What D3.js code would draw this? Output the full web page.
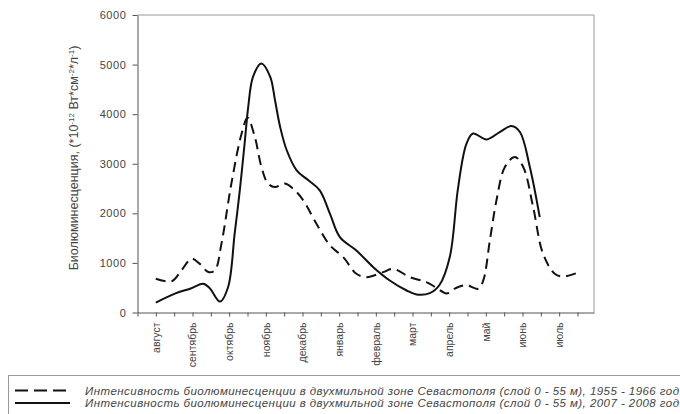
<!DOCTYPE html>
<html>
<head>
<meta charset="utf-8">
<style>
body { margin: 0; background: #fff; }
svg { font-family: "Liberation Sans", Arial, sans-serif; }
.axis text { fill: #444; font-size: 10.5px; }
.axis.y text { font-size: 11px; letter-spacing: 0.6px; }
.axis path, .axis line { stroke: #555; }
.curve { fill: none; stroke: #111; stroke-width: 2; stroke-linejoin: round; }
.legend text { fill: #444; font-size: 11.5px; font-style: italic; }
</style>
<script src="https://d3js.org/d3.v7.min.js"></script>
</head>
<body>
<svg width="680" height="414"></svg>
<script>
var months = ["август", "сентябрь", "октябрь", "ноябрь", "декабрь", "январь",
              "февраль", "март", "апрель", "май", "июнь", "июль"];

// month position (0 = август) and value, 1955 - 1966
var oldT = [0, 0.43, 0.7, 0.97, 1.2, 1.43, 1.61, 1.79, 2.06, 2.34, 2.5, 2.7, 2.88, 3.06,
            3.25, 3.52, 3.79, 4.02, 4.38, 4.75, 5.11, 5.47, 5.75, 6.2, 6.47, 6.93, 7.38,
            7.65, 7.93, 8.2, 8.47, 8.79, 8.93, 9.11, 9.29, 9.52, 9.79, 10.02, 10.29,
            10.56, 10.88, 11.11, 11.47];
var oldV = [680, 630, 850, 1085, 980, 815, 850, 1390, 2600, 3610, 3930, 3540, 2935, 2600,
            2530, 2600, 2464, 2262, 1792, 1353, 1117, 781, 713, 814, 882, 713, 612,
            500, 385, 500, 550, 478, 646, 1454, 2262, 2935, 3137, 2935, 2127,
            1185, 781, 727, 794];

// 2007 - 2008
var newT = [0, 0.52, 0.97, 1.29, 1.47, 1.75, 1.97, 2.15, 2.29, 2.43, 2.52, 2.65, 2.88,
            3.12, 3.25, 3.39, 3.57, 3.84, 4.16, 4.47, 4.75, 5.02, 5.47, 5.93, 6.38,
            6.84, 7.11, 7.47, 7.74, 8.02, 8.24, 8.47, 8.65, 9.02, 9.38, 9.7, 9.93,
            10.2, 10.47];
var newV = [200, 380, 490, 580, 490, 220, 510, 1590, 2464, 3474, 4148, 4754, 5024,
            4754, 4282, 3743, 3272, 2868, 2666, 2464, 1990, 1520, 1250, 915, 646,
            444, 364, 390, 560, 1130, 2500, 3400, 3610, 3490, 3640, 3760, 3640,
            2935, 1925];

var yTicks = [0, 1000, 2000, 3000, 4000, 5000, 6000];

var legendLabels = [
  "Интенсивность биолюминесценции в двухмильной зоне Севастополя (слой 0 - 55 м), 1955 - 1966 год",
  "Интенсивность биолюминесценции в двухмильной зоне Севастополя (слой 0 - 55 м), 2007 - 2008 год"
];

var svg = d3.select("svg"),
    pLeft = 137.5, pRight = 594, pTop = 15, pBottom = 312.5;

var x = d3.scaleLinear().domain([-0.5, 11.95]).range([pLeft, pRight]);
var y = d3.scaleLinear().domain([0, 6000]).range([pBottom, pTop]);

// frame top and right
svg.append("path")
    .attr("d", "M" + pLeft + "," + pTop + "H" + pRight + "V" + pBottom)
    .attr("fill", "none")
    .attr("stroke", "#999");

svg.append("g")
    .attr("class", "axis y")
    .attr("transform", "translate(" + pLeft + ",0)")
    .call(d3.axisLeft(y).tickValues(yTicks).tickFormat(d3.format("d"))
      .tickSize(5).tickPadding(6).tickSizeOuter(0));

var halfTicks = d3.range(-0.5, 11.6, 0.5);
var xAxis = svg.append("g")
    .attr("class", "axis")
    .attr("transform", "translate(0," + pBottom + ")")
    .call(d3.axisBottom(x).tickValues(halfTicks).tickSize(4).tickSizeOuter(0).tickFormat(""));

xAxis.selectAll(".month")
    .data(months)
  .enter().append("text")
    .attr("class", "month")
    .attr("transform", function(d, i) { return "translate(" + x(i) + ",10) rotate(-90)"; })
    .attr("dy", "0.35em")
    .attr("text-anchor", "end")
    .text(function(d) { return d; });

// y title
var title = svg.append("text")
    .attr("transform", "translate(78,158) rotate(-90)")
    .attr("text-anchor", "middle")
    .attr("fill", "#444")
    .attr("font-size", 12.5);
title.append("tspan").text("Биолюминесценция, (*10");
title.append("tspan").attr("baseline-shift", "super").attr("font-size", 8).text("-12");
title.append("tspan").text(" Вт*см");
title.append("tspan").attr("baseline-shift", "super").attr("font-size", 8).text("-2");
title.append("tspan").text("*л");
title.append("tspan").attr("baseline-shift", "super").attr("font-size", 8).text("-1");
title.append("tspan").text(")");

var line = d3.line()
    .x(function(d) { return x(d[0]); })
    .y(function(d) { return y(d[1]); })
    .curve(d3.curveCatmullRom.alpha(0.5));

svg.append("path")
    .datum(d3.zip(oldT, oldV))
    .attr("class", "curve")
    .attr("stroke-dasharray", "10,6")
    .attr("d", line);

svg.append("path")
    .datum(d3.zip(newT, newV))
    .attr("class", "curve")
    .attr("d", line);

// legend
var legend = svg.append("g").attr("class", "legend");
legend.append("rect")
    .attr("x", 8.5).attr("y", 375.5)
    .attr("width", 700).attr("height", 60)
    .attr("fill", "#fff").attr("stroke", "#999");

var row = legend.selectAll(".row")
    .data(legendLabels)
  .enter().append("g")
    .attr("transform", function(d, i) { return "translate(0," + (390.5 + i * 12.5) + ")"; });

row.append("line")
    .attr("x1", 15).attr("x2", 70)
    .attr("stroke", "#111").attr("stroke-width", 2)
    .attr("stroke-dasharray", function(d, i) { return i === 0 ? "13,6" : null; });

row.append("text")
    .attr("x", 85)
    .attr("dy", "0.35em")
    .attr("textLength", 594)
    .attr("lengthAdjust", "spacing")
    .text(function(d) { return d; });
</script>
</body>
</html>
